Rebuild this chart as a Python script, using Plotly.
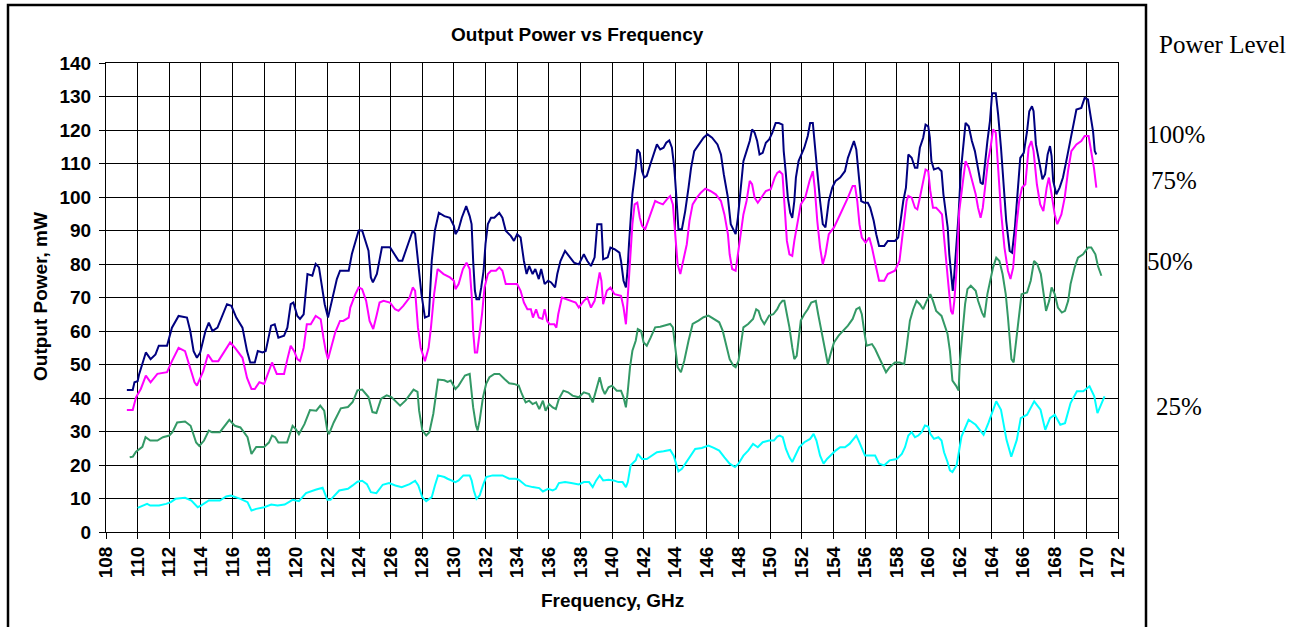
import plotly.graph_objects as go

# ---------------- data ----------------
freq_100 = [109.32,109.69,109.8,110.0,110.1,110.52,110.82,111.13,111.34,111.86,112.17,112.59,113.12,113.33,113.54,113.75,113.96,
114.29,114.5,114.73,115.05,115.38,115.65,115.93,116.24,116.63,116.92,117.12,117.41,117.6,117.9,118.1,118.44,118.67,118.9,119.26,
119.47,119.68,119.85,120.1,120.27,120.5,120.63,120.74,121.05,121.26,121.47,121.68,121.83,122.04,122.3,122.6,122.8,123.35,123.55,
123.77,123.98,124.2,124.4,124.6,124.75,124.88,125.13,125.35,125.45,125.96,126.18,126.5,126.74,126.96,127.2,127.4,127.55,127.73,
127.95,128.17,128.42,128.6,128.8,129.05,129.4,129.75,130.0,130.1,130.3,130.5,130.78,131.0,131.12,131.22,131.33,131.43,131.6,
131.73,131.88,132.0,132.15,132.35,132.56,132.87,133.07,133.28,133.6,133.8,134.0,134.22,134.43,134.6,134.76,134.98,135.15,135.37,
135.52,135.74,135.96,136.15,136.4,136.54,136.74,137.03,137.32,137.6,137.9,138.22,138.44,138.67,138.9,139.07,139.33,139.44,139.73,
139.9,140.16,140.47,140.57,140.73,140.88,140.98,141.08,141.29,141.5,141.6,141.76,141.9,142.04,142.2,142.42,142.63,142.84,143.05,
143.26,143.43,143.62,143.79,143.94,144.06,144.2,144.42,144.63,144.84,145.0,145.2,145.47,145.79,146.04,146.33,146.67,146.89,147.07,
147.33,147.51,147.73,147.82,147.96,148.16,148.31,148.51,148.71,148.86,149.02,149.18,149.33,149.53,149.73,149.94,150.14,150.35,
150.55,150.78,150.86,150.98,151.12,151.27,151.4,151.53,151.63,151.8,151.94,152.16,152.38,152.53,152.7,152.82,152.98,153.16,153.33,
153.5,153.71,153.93,154.14,154.43,154.73,154.92,155.12,155.3,155.45,155.6,155.76,155.96,156.18,156.33,156.55,156.71,156.89,157.22,
157.44,157.89,158.1,158.25,158.42,158.59,158.74,158.95,159.16,159.31,159.47,159.68,159.83,160.0,160.1,160.2,160.36,160.64,160.84,
160.96,161.1,161.23,161.33,161.44,161.55,161.65,161.75,161.92,162.06,162.2,162.36,162.56,162.76,162.95,163.15,163.31,163.45,
163.55,163.74,163.9,164.04,164.27,164.42,164.6,164.78,164.93,165.15,165.3,165.48,165.66,165.82,166.04,166.25,166.39,166.56,166.66,
166.81,167.01,167.22,167.39,167.55,167.7,167.8,167.9,168.1,168.31,168.52,168.73,168.94,169.16,169.37,169.68,169.89,170.1,170.27,
170.42,170.53,170.63]
power_100 = [42.4,42.4,44.7,45.0,47.2,53.6,51.6,53.0,55.6,55.6,61.0,64.5,64.0,60.0,54.0,52.0,53.6,
60.0,62.5,60.0,61.0,65.0,68.0,67.5,64.0,61.0,54.0,50.6,50.6,54.0,53.6,54.0,61.6,62.0,58.0,58.6,
61.0,68.0,68.5,64.5,63.6,65.0,72.0,77.0,76.5,80.0,79.0,73.0,68.0,64.0,69.0,75.5,78.0,78.0,83.0,
86.4,90.0,90.0,87.0,84.0,76.0,74.5,77.0,82.0,85.0,85.0,83.4,81.0,81.0,84.0,87.0,90.0,89.0,81.0,
71.0,64.0,64.5,81.0,90.0,95.3,94.3,93.8,91.4,88.9,90.4,93.8,97.3,94.3,91.9,80.9,72.0,69.5,69.5,
73.0,78.0,86.0,91.9,93.8,93.8,95.3,93.8,89.9,88.4,86.9,88.9,87.9,80.9,77.0,79.4,77.0,78.5,75.5,
78.5,74.0,75.0,74.5,73.0,77.0,80.9,83.9,82.0,80.4,79.9,82.9,80.9,79.4,82.0,91.9,91.9,81.4,82.0,
84.9,84.4,83.4,80.9,75.0,73.0,78.0,86.4,100.8,108.7,114.2,113.2,107.7,105.8,106.3,109.7,112.7,115.7,114.2,
114.7,116.2,116.9,114.7,108.7,100.8,90.4,90.4,95.8,102.8,108.7,113.7,115.7,117.7,118.7,117.7,115.7,112.7,106.8,
99.8,91.9,89.4,88.9,93.8,102.8,110.7,113.7,116.7,120.2,119.2,116.7,112.7,113.2,116.2,117.2,119.2,122.1,
122.1,121.6,113.7,107.7,99.8,95.3,93.8,98.8,105.8,110.7,112.2,114.7,118.2,122.1,122.1,116.7,107.7,98.8,91.9,
90.9,98.8,102.8,104.8,105.8,107.7,111.7,114.7,116.7,114.2,107.7,98.8,98.3,98.3,96.8,92.9,88.9,85.4,85.4,
86.9,86.9,87.9,92.9,98.8,102.8,112.7,111.7,108.7,108.7,114.7,117.7,121.6,121.1,117.7,110.7,108.2,108.7,107.7,
100.8,95.0,90.9,82.9,77.0,72.0,77.0,82.9,94.8,107.7,114.7,122.1,121.1,116.7,113.7,107.7,104.3,103.8,
108.7,116.7,122.6,131.0,131.0,124.6,114.7,102.8,92.9,83.9,83.4,90.9,102.8,111.7,113.2,119.7,125.6,127.1,125.6,
115.7,110.7,105.3,106.8,112.7,115.2,112.2,104.8,100.8,102.8,105.8,110.7,115.7,120.7,126.1,126.6,129.6,129.1,124.6,
119.7,113.7,112.7]

freq_75 = [109.32,109.69,109.9,110.2,110.52,110.82,111.25,111.86,112.17,112.59,113.0,113.33,113.6,113.75,114.15,114.45,114.73,
115.1,115.6,115.85,116.15,116.63,116.92,117.2,117.41,117.7,118.0,118.3,118.5,118.8,119.26,119.47,119.68,119.9,120.1,120.27,120.5,
120.7,120.95,121.26,121.58,121.75,121.9,122.04,122.3,122.5,122.8,123.0,123.35,123.45,123.77,123.98,124.2,124.45,124.67,124.9,
125.13,125.3,125.55,125.96,126.28,126.5,126.8,127.2,127.4,127.55,127.73,127.9,128.17,128.4,128.55,128.75,128.97,129.35,129.75,
130.0,130.1,130.3,130.57,130.8,131.0,131.12,131.22,131.33,131.47,131.63,131.78,131.94,132.15,132.35,132.66,132.87,133.07,133.28,
133.7,134.0,134.22,134.43,134.65,134.87,135.0,135.2,135.37,135.6,135.74,135.9,136.06,136.35,136.48,136.6,136.83,137.12,137.42,
137.7,137.9,138.22,138.44,138.67,138.9,139.07,139.22,139.33,139.44,139.67,139.9,140.16,140.57,140.73,140.88,140.98,141.14,141.29,
141.43,141.6,141.76,141.9,142.1,142.3,142.52,142.73,142.94,143.22,143.47,143.68,143.85,144.0,144.15,144.32,144.52,144.73,144.9,
145.1,145.37,145.62,145.9,146.22,146.56,146.89,147.11,147.33,147.44,147.6,147.82,147.96,148.1,148.31,148.51,148.71,148.86,149.02,
149.22,149.43,149.73,150.04,150.29,150.45,150.6,150.78,150.86,150.98,151.06,151.22,151.4,151.53,151.74,151.94,152.22,152.49,152.7,
152.82,152.98,153.16,153.33,153.5,153.71,154.04,154.33,154.63,154.92,155.22,155.37,155.51,155.65,155.8,156.04,156.27,156.44,156.71,
156.89,157.22,157.44,157.89,158.18,158.33,158.48,158.63,158.74,158.95,159.16,159.31,159.47,159.68,159.83,160.0,160.13,160.3,160.5,
160.7,160.87,161.0,161.11,161.23,161.33,161.44,161.55,161.65,161.8,161.96,162.17,162.36,162.56,162.76,163.0,163.15,163.31,163.45,
163.58,163.78,163.94,164.1,164.27,164.42,164.6,164.82,165.04,165.2,165.37,165.59,165.75,165.93,166.14,166.35,166.52,166.66,166.87,
167.08,167.28,167.49,167.63,167.8,168.0,168.16,168.42,168.63,168.84,169.05,169.37,169.68,169.89,170.14,170.31,170.48,170.63]
power_75 = [36.4,36.4,40.2,42.7,46.7,44.7,47.2,47.7,51.0,55.0,54.0,49.0,44.7,43.7,48.0,53.0,51.0,
51.0,54.6,56.6,55.0,52.0,46.0,42.7,42.7,44.7,44.2,47.7,50.6,47.2,47.2,51.6,55.6,54.0,51.6,51.0,55.0,
62.0,62.0,64.5,63.5,58.0,54.0,51.6,56.0,59.6,63.0,63.0,64.0,67.0,71.0,73.0,72.5,69.0,63.0,60.6,
65.0,68.5,69.0,68.5,66.5,66.0,67.5,70.0,73.0,72.0,61.0,55.0,51.0,55.0,61.0,71.0,78.5,77.0,76.0,
75.0,72.5,74.0,78.5,80.4,78.5,71.0,60.0,53.6,53.6,59.0,65.0,73.0,77.0,78.0,78.0,79.0,78.0,74.0,
74.0,74.0,72.0,68.5,66.5,66.5,64.0,66.5,64.0,63.6,66.5,63.0,62.0,62.0,61.0,65.0,70.0,69.5,69.0,
68.5,67.0,69.0,70.0,67.0,69.0,73.0,77.5,75.0,68.0,72.0,73.0,71.0,70.5,67.0,62.0,69.0,80.9,91.9,
97.8,98.3,93.8,91.4,90.4,92.9,95.8,98.8,98.3,97.8,99.3,100.3,97.8,88.9,79.9,77.0,80.9,85.9,92.9,
97.8,99.8,101.3,102.5,101.8,100.8,98.8,94.8,88.9,82.9,78.5,78.0,82.9,88.9,94.8,98.8,104.8,103.8,99.8,
98.3,99.8,101.8,102.3,105.8,107.2,107.7,106.8,100.8,93.8,86.9,82.9,82.4,86.9,92.9,97.8,99.8,104.8,107.7,
102.8,92.9,84.9,79.9,82.9,88.9,90.9,93.8,96.8,99.8,103.3,103.3,98.8,91.9,87.9,86.4,87.9,84.9,78.9,
75.0,75.0,77.0,78.0,80.9,86.9,92.9,98.8,100.3,99.8,96.8,96.3,99.8,104.8,108.2,107.7,101.8,96.8,96.8,
95.8,94.8,87.9,80.9,76.0,71.0,66.0,65.0,69.0,78.9,95.8,103.8,110.7,108.7,104.8,100.8,96.8,93.8,96.8,
102.8,110.7,114.7,120.2,119.2,107.7,95.8,84.9,78.0,75.5,78.9,91.9,98.8,102.8,103.8,114.7,116.7,113.7,103.8,
97.8,95.8,102.8,105.8,100.8,94.8,91.9,94.8,99.8,107.7,113.7,115.7,116.7,118.2,118.2,113.7,108.7,102.8]

freq_50 = [109.5,109.7,109.9,110.3,110.5,110.8,111.25,111.6,112.0,112.2,112.5,113.0,113.35,113.7,113.9,114.2,114.5,114.7,
115.2,115.5,115.8,116.15,116.5,116.95,117.2,117.5,118.0,118.3,118.5,118.7,118.9,119.45,119.8,120.0,120.2,120.55,120.9,121.3,
121.55,121.8,122.0,122.1,122.4,122.85,123.3,123.6,123.9,124.2,124.6,124.85,125.1,125.4,125.75,126.05,126.4,126.6,126.95,
127.45,127.7,127.8,128.0,128.25,128.45,128.7,129.0,129.4,129.6,129.8,130.1,130.3,130.5,130.7,131.0,131.12,131.22,131.4,131.5,
131.63,131.84,132.04,132.25,132.56,132.87,133.2,133.5,133.8,134.1,134.3,134.54,134.76,134.98,135.2,135.4,135.63,135.8,136.02,
136.25,136.45,136.64,136.93,137.22,137.5,137.9,138.22,138.55,138.78,139.0,139.22,139.4,139.55,139.78,140.0,140.3,140.57,140.73,
140.88,140.98,141.14,141.29,141.5,141.63,141.84,142.0,142.2,142.45,142.73,143.05,143.37,143.68,143.85,144.0,144.15,144.36,144.57,
144.84,145.1,145.47,145.79,146.1,146.44,146.78,147.0,147.22,147.44,147.67,147.82,148.0,148.16,148.31,148.61,148.92,149.12,149.27,
149.43,149.63,149.94,150.2,150.45,150.6,150.78,150.9,151.06,151.22,151.4,151.53,151.68,151.8,151.94,152.16,152.38,152.6,152.89,
153.04,153.27,153.5,153.65,153.82,154.04,154.33,154.63,154.92,155.22,155.45,155.65,155.8,155.96,156.1,156.44,156.64,156.89,157.11,
157.33,157.56,157.89,158.2,158.48,158.63,158.84,159.05,159.26,159.47,159.68,159.9,160.13,160.3,160.5,160.84,161.0,161.22,161.37,
161.53,161.75,161.92,162.0,162.17,162.33,162.48,162.69,163.0,163.15,163.4,163.55,163.74,163.9,164.1,164.3,164.5,164.7,164.9,
165.04,165.15,165.26,165.4,165.6,165.75,165.9,166.25,166.48,166.69,166.9,167.12,167.3,167.45,167.65,167.8,168.0,168.2,168.45,
168.65,168.85,169.0,169.26,169.47,169.79,170.1,170.31,170.57,170.73,170.95]
power_50 = [22.3,22.5,24.0,25.4,28.3,27.3,27.3,28.3,28.8,29.8,32.7,33.0,31.7,26.7,25.7,27.3,30.3,29.8,
29.8,31.7,33.5,31.7,31.2,28.3,23.3,25.4,25.4,26.7,28.8,28.3,26.7,26.7,31.7,30.7,29.2,32.2,36.4,36.2,
37.7,36.2,30.2,29.2,32.7,36.9,37.3,38.8,42.3,42.5,40.3,35.8,35.5,39.8,40.8,40.3,38.8,37.7,39.3,
42.5,41.8,36.3,30.4,28.8,29.8,35.3,45.5,45.3,44.8,45.2,42.7,43.7,45.2,46.7,47.2,42.2,37.2,31.8,30.3,
33.3,40.2,44.2,46.2,47.2,47.2,45.7,44.4,44.2,43.7,41.2,38.7,39.2,38.2,38.7,36.7,39.2,36.2,38.2,
37.2,36.7,39.7,42.2,41.7,40.7,40.2,41.7,41.2,38.7,42.2,46.2,42.7,41.2,43.2,43.7,42.2,42.2,40.2,
37.2,41.2,49.2,54.1,57.1,60.6,60.0,56.6,55.6,58.1,61.1,61.3,61.6,62.1,61.1,55.1,49.2,47.7,51.1,
57.1,62.1,63.1,64.1,64.6,63.6,62.6,60.1,56.1,51.6,49.7,49.2,51.1,57.1,61.1,62.1,63.6,66.5,66.0,
63.6,62.1,64.6,65.0,66.5,68.0,69.0,69.0,65.0,61.1,55.1,51.6,52.6,58.1,63.1,65.0,66.5,68.5,69.0,
65.0,59.1,53.1,50.1,53.1,56.6,58.6,60.1,61.6,63.6,66.5,67.0,65.0,59.6,55.6,56.1,54.6,52.1,50.1,
47.7,49.2,50.6,50.6,50.1,55.1,63.1,66.5,69.0,68.0,66.5,69.0,71.0,69.0,66.0,64.5,62.1,59.1,54.1,
45.2,43.7,42.2,51.1,59.1,68.0,72.5,73.5,72.0,69.0,65.5,64.1,71.0,75.0,79.0,81.9,80.9,77.0,71.0,
64.1,57.1,51.6,50.6,59.1,65.0,71.0,71.5,75.0,80.9,79.9,77.0,71.0,66.0,69.0,73.0,71.0,67.0,65.5,
66.0,69.0,74.0,79.0,81.9,82.9,84.9,84.9,82.9,79.4,76.5]

freq_25 = [110.0,110.3,110.6,110.8,111.35,111.8,112.1,112.4,113.0,113.4,113.8,114.0,114.5,115.2,115.6,115.9,116.5,116.95,
117.2,117.5,118.0,118.45,118.85,119.3,119.8,120.2,120.65,121.25,121.7,122.0,122.2,122.75,123.3,123.6,123.9,124.2,124.5,124.75,
125.1,125.5,125.9,126.3,126.7,127.2,127.55,127.75,128.0,128.25,128.6,128.8,129.0,129.4,129.6,130.1,130.3,130.6,131.0,131.12,
131.26,131.43,131.63,131.84,132.04,132.45,133.07,133.5,133.9,134.1,134.54,134.98,135.4,135.63,135.96,136.25,136.45,136.64,137.03,
137.42,137.9,138.22,138.55,138.78,139.0,139.22,139.44,139.78,140.1,140.4,140.67,140.88,141.0,141.18,141.5,141.63,141.9,142.2,
142.52,142.84,143.26,143.68,143.9,144.06,144.2,144.42,144.63,144.94,145.26,145.68,146.1,146.44,146.78,147.11,147.44,147.78,148.0,
148.31,148.61,148.92,149.22,149.53,149.94,150.24,150.45,150.6,150.8,151.0,151.22,151.4,151.6,151.84,152.16,152.53,152.75,152.93,
153.16,153.38,153.6,153.82,154.14,154.43,154.73,155.02,155.3,155.45,155.6,155.8,156.0,156.33,156.64,156.89,157.22,157.56,158.0,
158.33,158.53,158.74,158.95,159.16,159.37,159.58,159.79,160.0,160.13,160.36,160.64,160.84,161.0,161.22,161.37,161.53,161.8,162.1,
162.55,163.0,163.5,163.8,164.3,164.6,164.95,165.25,165.6,165.85,166.25,166.7,167.1,167.4,167.7,168.0,168.35,168.65,169.0,169.4,
169.8,170.2,170.5,170.7,170.9,171.15]
power_25 = [7.2,7.9,8.4,7.9,7.9,8.4,8.9,9.9,10.2,9.4,7.4,7.9,9.4,9.4,10.6,10.9,9.9,8.9,
6.4,6.9,7.4,8.2,7.9,8.2,9.6,9.2,11.6,12.6,13.2,9.6,9.6,12.4,12.9,13.9,15.0,15.3,14.3,11.9,
11.6,14.1,14.6,13.9,13.4,14.3,15.3,13.9,10.4,9.2,10.4,13.9,16.9,16.4,15.9,14.9,15.4,16.9,16.9,15.4,
12.4,9.9,10.9,13.9,16.4,16.9,16.9,15.9,15.9,15.6,13.9,13.4,13.1,12.1,12.9,12.4,12.9,14.6,14.9,
14.6,14.2,14.9,14.9,13.4,15.4,16.9,15.4,15.6,15.4,14.9,14.9,13.4,14.9,19.9,21.4,23.3,21.8,21.8,
22.8,23.8,24.1,24.5,22.8,19.9,18.1,18.9,20.4,22.3,24.8,25.1,25.8,25.1,24.3,22.3,20.4,19.4,20.4,
22.8,24.3,26.3,25.3,26.8,27.3,27.3,28.5,28.8,28.3,24.8,22.3,20.9,22.8,25.3,26.8,27.8,29.3,27.3,
22.8,20.4,21.8,22.8,24.3,25.3,25.3,26.3,27.8,28.8,27.3,24.8,22.8,22.8,22.8,20.4,19.9,21.4,21.8,
23.3,25.3,28.8,29.8,28.3,28.8,29.8,31.8,31.5,29.3,27.8,28.3,27.3,23.8,20.9,18.4,17.9,20.0,28.5,
33.5,32.0,29.0,32.5,39.0,36.5,27.5,22.5,27.5,34.0,35.0,39.0,36.5,30.5,34.0,35.0,32.0,32.5,38.5,42.0,
42.0,43.5,40.5,35.5,37.5,40.5]

series_names = ["100%", "75%", "50%", "25%"]
series_colors = ["#000080", "#FF00FF", "#339966", "#00FFFF"]

x_ticks = list(range(108, 173, 2))
y_ticks = list(range(0, 141, 10))

# ---------------- figure ----------------
W, H = 1303, 627
L, R, T, B = 106, 185, 63, 95   # plot area 106..1118 x 63..532
pw, ph = W - L - R, H - T - B

def px(xp):
    return (xp - L) / pw

def py(yp):
    return (H - B - yp) / ph

fig = go.Figure()
for fx, fy, name, col in zip([freq_100, freq_75, freq_50, freq_25],
                             [power_100, power_75, power_50, power_25],
                             series_names, series_colors):
    fig.add_trace(go.Scatter(x=fx, y=fy, mode="lines", name=name,
                             line=dict(color=col, width=2), showlegend=False))

tick_font = dict(family="Arial", size=19, color="black", weight="bold")
fig.update_xaxes(range=[108, 172], tickvals=x_ticks, ticktext=[str(v) for v in x_ticks],
                 tickangle=-90, tickfont=tick_font, showgrid=True, gridcolor="black", gridwidth=1,
                 showline=True, linecolor="black", linewidth=1, mirror=True,
                 ticks="outside", ticklen=6, tickcolor="black", zeroline=False)
fig.update_yaxes(range=[0, 140], tickvals=y_ticks, tickfont=tick_font, showgrid=True,
                 gridcolor="black", gridwidth=1, showline=True, linecolor="black", linewidth=1,
                 mirror=True, ticks="outside", ticklen=6, tickcolor="black", zeroline=False,
                 ticklabelstandoff=4)

title_font = dict(family="Arial", size=19, color="black", weight="bold")
serif = dict(family="Times New Roman, Liberation Serif, serif", size=25, color="black")
annos = [
    dict(text="Output Power vs Frequency", x=px(577), y=py(34), font=title_font),
    dict(text="Frequency, GHz", x=px(612), y=py(600), font=title_font),
    dict(text="Output Power, mW", x=px(40), y=py(297), font=title_font, textangle=-90),
    dict(text="Power Level", x=px(1222), y=py(45), font=serif),
    dict(text="100%", x=px(1176), y=py(134), font=serif),
    dict(text="75%", x=px(1174), y=py(180), font=serif),
    dict(text="50%", x=px(1170), y=py(261), font=serif),
    dict(text="25%", x=px(1179), y=py(406), font=serif),
]
for a in annos:
    fig.add_annotation(xref="paper", yref="paper", showarrow=False,
                       xanchor="center", yanchor="middle", **a)

# chart-area border (bottom edge runs below the visible page)
fig.add_shape(type="rect", xref="paper", yref="paper",
              x0=px(8), x1=px(1146), y0=py(660), y1=py(5),
              line=dict(color="black", width=2.5), fillcolor="rgba(0,0,0,0)")

fig.update_layout(width=W, height=H, margin=dict(l=L, r=R, t=T, b=B),
                  paper_bgcolor="white", plot_bgcolor="white", showlegend=False)

# remove the browser's default page margin so the figure sits at (0, 0)
fig.write_html("out.html", config={"displayModeBar": False},
               post_script="document.body.style.margin='0px';document.body.style.overflow='hidden';")
